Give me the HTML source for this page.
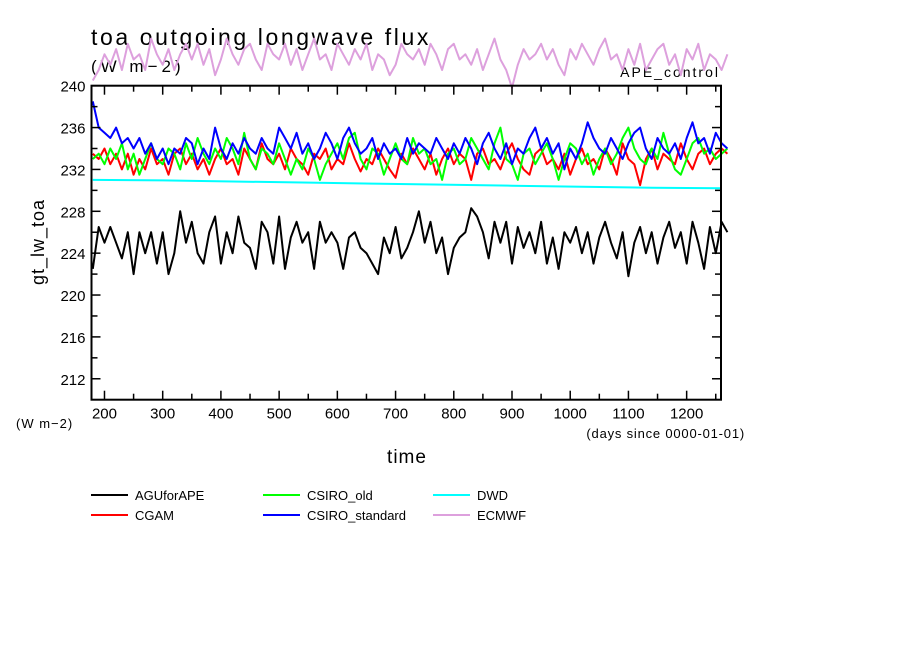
<!DOCTYPE html>
<html><head><meta charset="utf-8"><style>
html,body{margin:0;padding:0;background:#fff;}
svg{display:block;font-family:"Liberation Sans","DejaVu Sans",sans-serif;}
</style></head><body>
<svg id="chart" width="904" height="654" xmlns="http://www.w3.org/2000/svg">
<text x="91" y="45" font-size="23" letter-spacing="2.6">toa outgoing longwave flux</text>
<text x="91" y="72" font-size="17" letter-spacing="4">(W m−2)</text>
<text x="720" y="77" font-size="14" letter-spacing="2" text-anchor="end">APE_control</text>
<text x="0" y="0" font-size="18" letter-spacing="1" text-anchor="middle" transform="translate(44,242) rotate(-90)">gt_lw_toa</text>
<text x="16" y="428" font-size="13" letter-spacing="1">(W m−2)</text>
<text x="407" y="463" font-size="19" letter-spacing="1" text-anchor="middle">time</text>
<text x="745" y="438" font-size="13" letter-spacing="0.8" text-anchor="end">(days since 0000-01-01)</text>
<g id="series"></g>
<g id="axes"></g>
<g id="legend"></g>
</svg>
<script>
const startDay = 180;
const stepDay = 10;
const seriesNames = ["AGUforAPE","CGAM","CSIRO_old","CSIRO_standard","DWD","ECMWF"];
const seriesColors = ["#000000","#ff0000","#00ff00","#0000ff","#00ffff","#dda0dd"];
const aguValues = [222.5,226.5,225,226.5,225,223.5,226,222,226,224,226,223,226,222,224,228,225,227,224,223,226,227.5,223,226,224,227.5,225,224.5,222.5,227,226,223,227.5,222.5,225.5,227,225,226,222.5,227,225,226,225,222.5,225.5,226,224.5,224,223,222,225.5,224,226.5,223.5,224.5,226,228,225,227,224,225.5,222,224.5,225.5,226,228.3,227.5,226,223.5,227,225,227,223,226.5,224.5,226,224,227,223,225.5,222.5,226,225,226.5,224,226,223,225.5,227,225,223.5,226,221.8,225,226.5,224,226,223,225.5,227,224.5,226,223,227,225,222.5,226.5,224,227,226];
const cgamValues = [233.5,233,234,232.5,233.5,232,233.5,231.5,233,232,234,232.5,233,231.5,233.5,234,232.5,233.5,232,233,231.5,233,234,232.5,233,231.5,234,233,232,234.5,233,232.5,233.5,232,234,233,232.5,231.5,233.5,233,234,232,233,232.5,234.5,233,231.8,233,232.5,234,233,232,231.2,233.5,232.5,234,233,232,233.5,231.5,233,234,232.5,233.5,233,231,233.5,234,232.5,233,232,233.5,234.5,233,232,231.5,233.5,234,232.5,233,232,233.5,231.5,233,234,232.5,233,232,234,233,231.5,234.5,233,232.5,230.5,233,234,232,233.5,233,232.5,234.5,233,232,233.5,234,232.5,233.5,234,233.5];
const csiroOldValues = [233,233.5,232.5,234,233,234.5,232,233.5,231.5,233,234.5,233,232.5,234,233.5,232,234.5,233,235,233.5,232.5,234,233,235,234,232.5,235.5,233,232,234,233.5,232.5,234.5,233,231.5,233,232,234,233,231,232.5,233.5,234.5,233,235,235.5,233,232,234,233.5,231.5,233,234.5,233,232.5,235,233.5,234,232.5,233,231,233.5,234,232.5,233,235,234,233,232,234.5,236,233,232.5,231,233.5,234,232.5,233.5,234.5,233,231,233,234.5,234,232.5,233.5,231.5,233,234,232.5,233.5,235,236,234,233,232.5,234,233,235.5,233.5,232,231.5,233,234.5,235,233.5,234,233,233.5,234];
const csiroStdValues = [238.5,236,235.5,235,236,234.5,235,234,235,233.5,234.5,233,234,232.5,234,233.5,235,234.5,232.5,234,233,236,234,233,234.5,233.5,235,234,233.5,235,234,233.5,236,235,234,235.5,233.5,234.5,233,234,235.5,234.5,233,235,236,234.5,233.5,234,235,233,234.5,233.5,234,233,235,233.5,234.5,234,233.5,235,234,233,234.5,233.5,235,234,232.5,234.5,235.5,234,233,234.5,232.5,234,233.5,235,236,234,235,233.5,234.5,232,234,233,234.5,236.5,235,234,233.5,235,234,233,234.5,235.5,236,234,233,235,234,233.5,234.5,233,235,236.5,234.5,235,233.5,235.5,234.5,234];
const dwdDays = [180,300,420,540,660,780,900,1020,1140,1260];
const dwdValues = [231.0,230.95,230.85,230.75,230.65,230.55,230.45,230.35,230.25,230.2];
const ecmwfValues = [240.5,241.5,243,242,243.5,241.5,244,242.5,243,241.5,244.5,243,242,243.5,241.5,243,244,242.5,244,242,243.5,241,242.5,244.5,243,242,243.5,244,242.5,241.5,244,243,242.5,244,242,243.5,241.5,243,244.5,242.5,243,241.5,244,243,242,243.5,242.5,244,241.5,243,242.5,241,242,244,243,242.5,243.5,242,244,243,241.5,243.5,244,242.5,243,242,243.5,241.5,243,244.5,242.5,241.5,239.8,242,243.5,242.5,243,244,242.5,243.5,242,241,243.5,242.5,244,243,242,243.5,244.5,242.5,243,241.5,243.5,242,244,241.5,242.5,243.5,244,242,243,241,243.5,242.5,244,241.5,243,242.5,241.5,243];
const yTickLabels = [212,216,220,224,228,232,236,240];
const xTickLabels = [200,300,400,500,600,700,800,900,1000,1100,1200];

const L=91.5,R=721,T=85.7,B=399.7;
const xMin=177.7,xMax=1259,yMin=210,yMax=240;
function xs(d){return L+(d-xMin)/(xMax-xMin)*(R-L);}
function ys(v){return B-(v-yMin)/(yMax-yMin)*(B-T);}
const NS="http://www.w3.org/2000/svg";
function mk(tag,parent){const e=document.createElementNS(NS,tag);parent.appendChild(e);return e;}

const sg=document.getElementById('series');
function drawSeries(vals,days,color,name){
  let d="";
  vals.forEach((v,i)=>{const day=days?days[i]:startDay+stepDay*i;d+=(i?"L":"M")+xs(day).toFixed(1)+","+ys(v).toFixed(1);});
  const p=mk('path',sg);
  
  
  p.setAttribute('d',d);p.setAttribute('fill','none');p.setAttribute('stroke',color);p.setAttribute('stroke-width','2');p.setAttribute('stroke-linejoin','round');
}
drawSeries(ecmwfValues,null,seriesColors[5],'ecmwf-line');
drawSeries(dwdValues,dwdDays,seriesColors[4],'dwd-line');
drawSeries(aguValues,null,seriesColors[0],'aguforape-line');
drawSeries(cgamValues,null,seriesColors[1],'cgam-line');
drawSeries(csiroOldValues,null,seriesColors[2],'csiro-old-line');
drawSeries(csiroStdValues,null,seriesColors[3],'csiro-standard-line');

const ag=document.getElementById('axes');
const fr=mk('rect',ag);


fr.setAttribute('x',L);fr.setAttribute('y',T);fr.setAttribute('width',R-L);fr.setAttribute('height',B-T);fr.setAttribute('fill','none');fr.setAttribute('stroke','#000');fr.setAttribute('stroke-width','2');
function line(x1,y1,x2,y2,name){const l=mk('line',ag);
  
  
  l.setAttribute('x1',x1);l.setAttribute('y1',y1);l.setAttribute('x2',x2);l.setAttribute('y2',y2);l.setAttribute('stroke','#000');l.setAttribute('stroke-width','1.5');}
for(let v=212;v<=240;v+=2){const y=ys(v);const len=(v%4===0)?9:6;line(L,y,L+len,y,'y-tick');line(R,y,R-len,y,'y-tick-right');}
for(let d=200;d<=1250;d+=50){const x=xs(d);const len=(d%100===0)?9:6;line(x,B,x,B-len,'x-tick');line(x,T,x,T+len,'x-tick-top');}
yTickLabels.forEach(v=>{const t=mk('text',ag);
  
  
  t.setAttribute('x',L-6);t.setAttribute('y',ys(v)+6);t.setAttribute('text-anchor','end');t.setAttribute('font-size','15');t.textContent=v;});
xTickLabels.forEach(d=>{const t=mk('text',ag);
  
  
  t.setAttribute('x',xs(d));t.setAttribute('y',B+19);t.setAttribute('text-anchor','middle');t.setAttribute('font-size','15');t.textContent=d;});

const lg=document.getElementById('legend');
const legX=[91,263,433],legY=[495,515];
const order=[0,1,2,3,4,5];
order.forEach((si,k)=>{const col=Math.floor(k/2),row=k%2;const x=legX[col],y=legY[row];
  const g=mk('g',lg);
  
  
  const l=mk('line',g);
  
  
  l.setAttribute('x1',x);l.setAttribute('x2',x+37);l.setAttribute('y1',y);l.setAttribute('y2',y);l.setAttribute('stroke',seriesColors[si]);l.setAttribute('stroke-width','2');
  const t=mk('text',g);
  
  
  t.setAttribute('x',x+44);t.setAttribute('y',y+5);t.setAttribute('font-size','13');t.textContent=seriesNames[si];
});
</script>
</body></html>
